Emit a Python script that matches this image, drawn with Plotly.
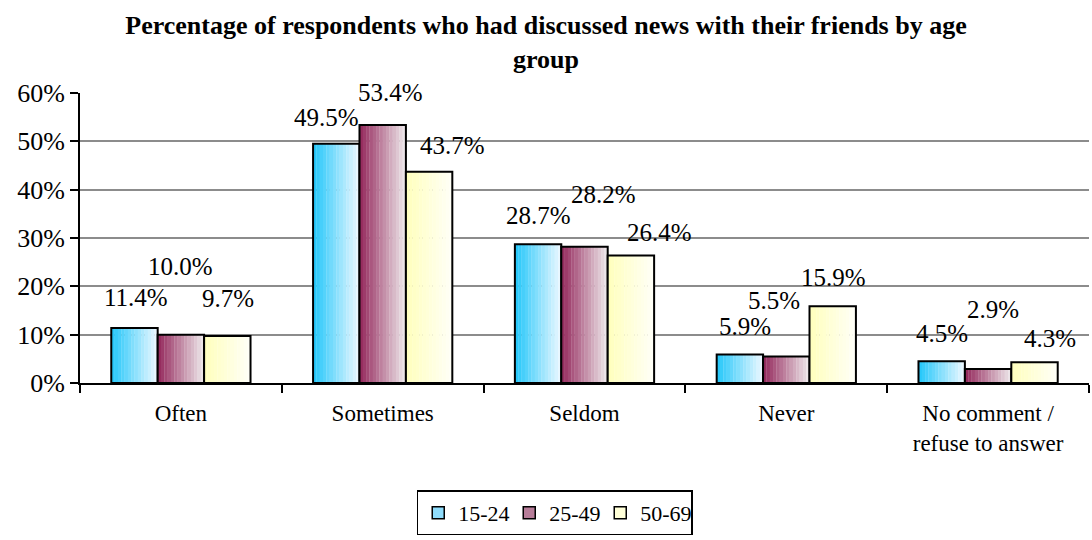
import plotly.graph_objects as go

# ---- data -------------------------------------------------------------
categories = ["Often", "Sometimes", "Seldom", "Never", "No comment /<br>refuse to answer"]
age_groups = ["15-24", "25-49", "50-69"]
pct_15_24 = [11.4, 49.5, 28.7, 5.9, 4.5]
pct_25_49 = [10.0, 53.4, 28.2, 5.5, 2.9]
pct_50_69 = [9.7, 43.7, 26.4, 15.9, 4.3]
y_tick_values = [0, 10, 20, 30, 40, 50, 60]
y_tick_labels = ["0%", "10%", "20%", "30%", "40%", "50%", "60%"]

series = [pct_15_24, pct_25_49, pct_50_69]

# ---- style ------------------------------------------------------------
FONT = "Liberation Serif"
# left -> right gradient colours for each age group
gradients = [
    ((40, 200, 250), (232, 247, 255)),
    ((150, 45, 95), (236, 228, 232)),
    ((255, 255, 190), (255, 255, 246)),
]
legend_colors = ["#8fdcfb", "#b77d99", "#ffffd8"]
BAR_W = 0.23          # width of one bar in category units
N_STRIPES = 14        # colour steps used to shade each bar

# per-label placement (pixels above bar top, horizontal nudge)
label_raise = [
    [30, 26, 29, 28, 28],
    [68, 32, 52, 56, 59],
    [38, 26, 23, 29, 24],
]
label_nudge = [
    [2, -10, 0, 5, 0],
    [0, 8, 19, -12, 5],
    [1, 23, 29, 1, 15],
]


def mix(c0, c1, t):
    return "rgb(%d,%d,%d)" % tuple(round(a + (b - a) * t) for a, b in zip(c0, c1))


fig = go.Figure()

for s, vals in enumerate(series):
    start = -1.5 * BAR_W + s * BAR_W
    c0, c1 = gradients[s]
    step = BAR_W / N_STRIPES
    for j in range(N_STRIPES):
        t = j / (N_STRIPES - 1)
        fig.add_trace(go.Bar(
            x=categories, y=vals,
            width=step * 1.08, offset=start + j * step,
            marker=dict(color=mix(c0, c1, t), line=dict(width=0)),
            showlegend=False, hoverinfo="skip",
        ))
    # black outline of each bar
    fig.add_trace(go.Bar(
        x=categories, y=vals, width=BAR_W, offset=start,
        marker=dict(color="rgba(0,0,0,0)", line=dict(color="black", width=2)),
        showlegend=False, name=age_groups[s],
        hovertemplate="%{x}: %{y:.1f}%<extra>" + age_groups[s] + "</extra>",
    ))

# legend entries
for s, name in enumerate(age_groups):
    fig.add_trace(go.Bar(
        x=[None], y=[None], name=name,
        marker=dict(color=legend_colors[s], line=dict(color="black", width=1.5)),
    ))

# value labels
annotations = []
for s, vals in enumerate(series):
    for k, v in enumerate(vals):
        annotations.append(dict(
            x=k - BAR_W + s * BAR_W, y=v, xref="x", yref="y",
            text=f"{v:.1f}%", showarrow=False,
            xanchor="center", yanchor="middle",
            xshift=label_nudge[s][k], yshift=label_raise[s][k],
            font=dict(family=FONT, size=25, color="black"),
        ))

fig.update_layout(
    width=1092, height=540,
    barmode="overlay",
    plot_bgcolor="white", paper_bgcolor="white",
    margin=dict(l=80, r=3, t=93, b=157, autoexpand=False),
    title=dict(
        text="<b>Percentage of respondents who had discussed news with their friends by age<br>group</b>",
        x=0.5, xref="container", xanchor="center",
        y=1 - 34 / 540, yref="container", yanchor="top",
        font=dict(family=FONT, size=26, color="black"),
    ),
    font=dict(family=FONT, color="black"),
    annotations=annotations,
    legend=dict(
        orientation="h", x=0.508, xref="container", xanchor="center",
        y=-0.448, yanchor="middle",
        bordercolor="black", borderwidth=1.5,
        font=dict(family=FONT, size=22, color="black"),
        itemwidth=30, entrywidth=46, traceorder="normal",
    ),
)

fig.update_xaxes(
    type="category", tickson="boundaries", ticks="outside", ticklen=8,
    tickcolor="black", tickwidth=2,
    showline=True, linecolor="black", linewidth=2,
    showgrid=False, ticklabelstandoff=8, automargin=False,
    tickfont=dict(family=FONT, size=23, color="black"),
)
fig.update_yaxes(
    range=[0, 60], tickvals=y_tick_values, ticktext=y_tick_labels,
    ticks="outside", ticklen=8, tickcolor="black", tickwidth=2,
    showline=True, linecolor="black", linewidth=2,
    showgrid=True, gridcolor="#8c8c8c", gridwidth=2,
    zeroline=False, automargin=False,
    tickfont=dict(family=FONT, size=26, color="black"),
)

fig.write_html("out.html")
